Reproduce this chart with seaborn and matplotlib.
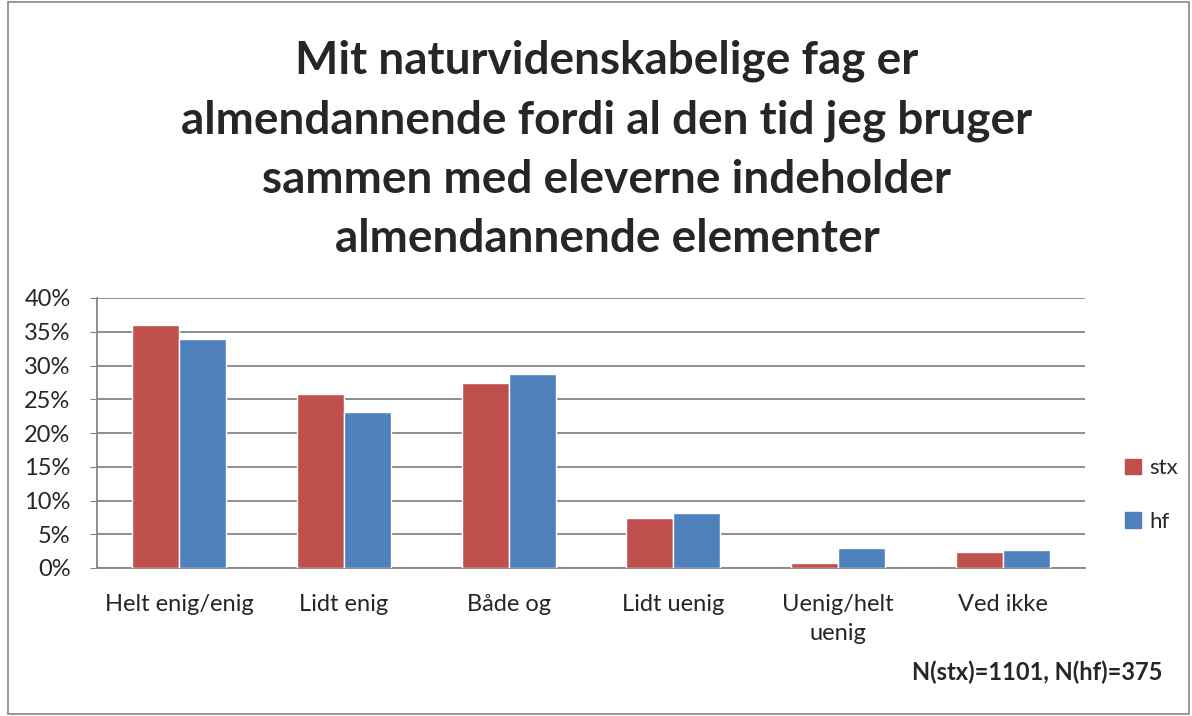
import pandas as pd
import matplotlib.pyplot as plt
import matplotlib.patches as mpatches
import seaborn as sns

# answers, shares per school type
categories = ['Helt enig/enig', 'Lidt enig', 'Både og', 'Lidt uenig', 'Uenig/helt\nuenig', 'Ved ikke']
stx = [36.0, 25.8, 27.4, 7.4, 0.8, 2.4]
hf = [33.9, 23.1, 28.8, 8.2, 3.0, 2.7]
series = ['stx', 'hf']
colors = ['#C0504D', '#4F81BD']

df = pd.DataFrame({'Svar': categories * 2,
                   'Andel': stx + hf,
                   'Skole': ['stx'] * len(categories) + ['hf'] * len(categories)})

sns.set_style('white')
plt.rcParams['font.family'] = ['Lato', 'DejaVu Sans']

fig = plt.figure(figsize=(11.92, 7.16), dpi=100)
ax = fig.add_axes([97 / 1192, 1 - 568 / 716, 988 / 1192, 270 / 716])

sns.barplot(data=df, x='Svar', y='Andel', hue='Skole', order=categories, hue_order=series,
            palette=colors, width=0.57, saturation=1, ax=ax, legend=False, zorder=3)

ax.set_ylim(0, 40)
ax.set_yticks(range(0, 41, 5))
ax.set_yticklabels([f'{v}%' for v in range(0, 41, 5)], fontsize=17)
ax.set_xlabel('')
ax.set_ylabel('')
for lbl in ax.get_xticklabels():
    lbl.set_linespacing(1.45)
ax.tick_params(axis='x', labelsize=17, length=0, pad=19)
ax.tick_params(axis='y', length=5, color='#868686', direction='out', left=True, pad=14)
ax.yaxis.grid(True, color='#868686', linewidth=1.3, zorder=0)
ax.set_axisbelow(True)
for s in ['top', 'right']:
    ax.spines[s].set_visible(False)
for s in ['left', 'bottom']:
    ax.spines[s].set_color('#868686')
    ax.spines[s].set_linewidth(1.3)

fig.text(607 / 1192, 1 - 150 / 716,
         'Mit naturvidenskabelige fag er\nalmendannende fordi al den tid jeg bruger\n'
         'sammen med eleverne indeholder\nalmendannende elementer',
         ha='center', va='center', fontsize=33, fontweight='bold', linespacing=1.5)

handles = [mpatches.Patch(color=c, label=s) for s, c in zip(series, colors)]
fig.legend(handles=handles, loc='center left', bbox_to_anchor=(1125 / 1192, 1 - 495 / 716),
           frameon=False, fontsize=16, handlelength=0.7, handleheight=0.7,
           labelspacing=1.5, handletextpad=0.4, borderpad=0, borderaxespad=0)

fig.text(1163 / 1192, 1 - 672 / 716, 'N(stx)=1101, N(hf)=375', ha='right', va='center',
         fontsize=17, fontweight='bold')

# chart frame
fig.patches.append(mpatches.Rectangle((8 / 1192, 2 / 716), 1181 / 1192, 712 / 716,
                                      transform=fig.transFigure, fill=False,
                                      edgecolor='#868686', linewidth=1.2))

fig.savefig('out.png', dpi=100)
